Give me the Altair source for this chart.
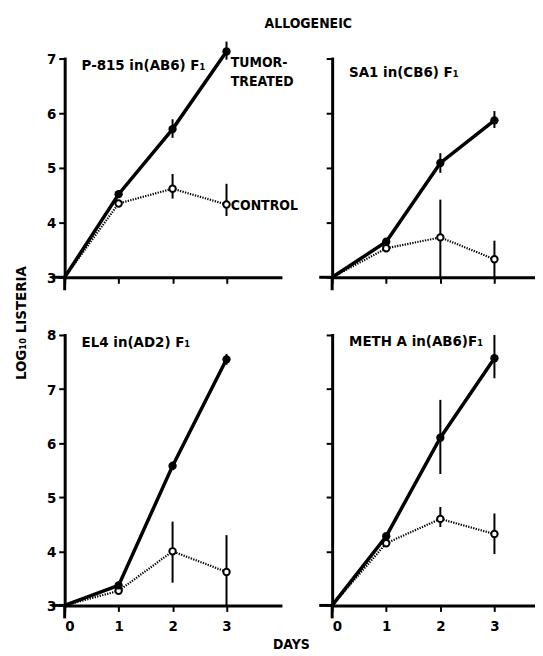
import altair as alt
import pandas as pd

# ---------------- data ----------------
DAYS = [0, 1, 2, 3]
PANEL_LABELS = ["P-815  in(AB6) F₁", "SA1  in(CB6) F₁", "EL4  in(AD2) F₁", "METH A  in(AB6)F₁"]

TUMOR = [
    [3.0, 4.52, 5.71, 7.13],
    [3.0, 3.65, 5.09, 5.87],
    [3.0, 3.37, 5.58, 7.55],
    [3.0, 4.28, 6.10, 7.57],
]
TUMOR_LO = [
    [None, None, 5.55, 6.98],
    [None, None, 4.91, 5.73],
    [None, None, 5.50, 7.45],
    [None, None, 5.43, 7.20],
]
TUMOR_HI = [
    [None, None, 5.89, 7.31],
    [None, None, 5.27, 6.04],
    [None, None, 5.66, 7.65],
    [None, None, 6.80, 8.00],
]
CONTROL = [
    [3.0, 4.35, 4.62, 4.33],
    [3.0, 3.53, 3.73, 3.33],
    [3.0, 3.27, 4.00, 3.62],
    [3.0, 4.15, 4.60, 4.32],
]
CONTROL_LO = [
    [None, None, 4.44, 4.12],
    [None, None, 3.00, 3.00],
    [None, None, 3.42, 3.00],
    [None, None, 4.45, 3.95],
]
CONTROL_HI = [
    [None, None, 4.89, 4.71],
    [None, None, 4.42, 3.67],
    [None, None, 4.55, 4.30],
    [None, None, 4.82, 4.70],
]

Y_TICKS_TOP = [3, 4, 5, 6, 7]
Y_TICKS_BOTTOM = [3, 4, 5, 6, 7, 8]
X_TICKS = [0, 1, 2, 3]

MAIN_TITLE = "ALLOGENEIC"
Y_TITLE = "LOG₁₀  LISTERIA"
X_TITLE = "DAYS"
TUMOR_NOTE = ["TUMOR-", "TREATED"]
CONTROL_NOTE = "CONTROL"

# ---------------- style ----------------
FONT = "DejaVu Sans Condensed, Liberation Sans Narrow, Roboto Condensed, sans-serif"
INK = "black"
LEFT_W, RIGHT_W = 217, 204
TOP_H, BOT_H = 220, 272


def one():
    return alt.Chart(pd.DataFrame({"_": [0]}))


def panel(i, xmax, width, ymax, height, yvals, show_ylabels, show_xlabels, label_dy):
    rows, err = [], []
    for k, d in enumerate(DAYS):
        rows.append({"day": d, "grp": "tumor", "v": TUMOR[i][k]})
        rows.append({"day": d, "grp": "control", "v": CONTROL[i][k]})
        if TUMOR_LO[i][k] is not None:
            err.append({"day": d, "lo": TUMOR_LO[i][k], "hi": TUMOR_HI[i][k]})
        if CONTROL_LO[i][k] is not None:
            err.append({"day": d, "lo": CONTROL_LO[i][k], "hi": CONTROL_HI[i][k]})
    df = pd.DataFrame(rows)
    edf = pd.DataFrame(err)

    xs = alt.Scale(domain=[0, xmax], nice=False, zero=False)
    ys = alt.Scale(domain=[3, ymax], nice=False, zero=False)
    xaxis = alt.Axis(values=X_TICKS, labels=show_xlabels, title=None, labelPadding=7,
                     format="d", grid=False)
    yaxis = alt.Axis(values=yvals, labels=show_ylabels, title=None, labelPadding=3,
                     format="d", grid=False)
    X = alt.X("day:Q", scale=xs, axis=xaxis)
    Y = alt.Y("v:Q", scale=ys, axis=yaxis)

    base = alt.Chart(df)
    tumor_line = base.transform_filter("datum.grp == 'tumor'").mark_line(
        color=INK, strokeWidth=3.5).encode(x=X, y=Y)
    ctrl_line = base.transform_filter("datum.grp == 'control'").mark_line(
        color=INK, strokeWidth=2.2, strokeDash=[1.3, 1.3]).encode(x=X, y=Y)
    bars = alt.Chart(edf).mark_rule(color=INK, strokeWidth=2).encode(
        x=alt.X("day:Q", scale=xs), y=alt.Y("lo:Q", scale=ys), y2="hi:Q")
    pts_t = base.transform_filter("datum.grp == 'tumor' && datum.day > 0").mark_circle(
        color=INK, size=70, opacity=1).encode(x=X, y=Y)
    pts_c = base.transform_filter("datum.grp == 'control' && datum.day > 0").mark_circle(
        fill="white", stroke=INK, strokeWidth=2, size=42, opacity=1).encode(x=X, y=Y)

    label = one().mark_text(font=FONT, fontSize=15, fontWeight="bold", align="left",
                            baseline="middle", color=INK).encode(
        x=alt.value(17), y=alt.value(label_dy), text=alt.value(PANEL_LABELS[i]))

    stub_x = one().mark_rule(color=INK, strokeWidth=3).encode(
        x=alt.value(-13), x2=alt.value(0), y=alt.value(height))
    stub_y = one().mark_rule(color=INK, strokeWidth=3).encode(
        x=alt.value(0), y=alt.value(height), y2=alt.value(height + 13))

    layers = [ctrl_line, tumor_line, bars, pts_c, pts_t, label, stub_x, stub_y]
    return layers, xs, ys


# top-left
L0, xs0, ys0 = panel(0, 4, LEFT_W, 7, TOP_H, Y_TICKS_TOP, True, False, 7)
notes = pd.DataFrame({"day": [3.08, 3.08, 3.08],
                      "v": [6.92, 6.57, 4.3],
                      "t": TUMOR_NOTE + [CONTROL_NOTE]})
note_layer = alt.Chart(notes).mark_text(font=FONT, fontSize=14, fontWeight="bold",
                                        align="left", baseline="middle", color=INK).encode(
    x=alt.X("day:Q", scale=xs0), y=alt.Y("v:Q", scale=ys0), text="t:N")
title_layer = one().mark_text(font=FONT, fontSize=14, fontWeight="bold", align="center",
                              baseline="middle", color=INK).encode(
    x=alt.value(245), y=alt.value(-35), text=alt.value(MAIN_TITLE))
ytitle_layer = one().mark_text(font=FONT, fontSize=15, fontWeight="bold", align="center",
                               baseline="middle", angle=270, color=INK).encode(
    x=alt.value(-44), y=alt.value(266), text=alt.value(Y_TITLE))
tl = alt.layer(*L0, note_layer, title_layer, ytitle_layer).properties(width=LEFT_W, height=TOP_H)

# top-right
L1, _, _ = panel(1, 3.75, RIGHT_W, 7, TOP_H, Y_TICKS_TOP, False, False, 14)
tr = alt.layer(*L1).properties(width=RIGHT_W, height=TOP_H)

# bottom-left
L2, _, _ = panel(2, 4, LEFT_W, 8, BOT_H, Y_TICKS_BOTTOM, True, True, 7)
xtitle_layer = one().mark_text(font=FONT, fontSize=14, fontWeight="bold", align="center",
                               baseline="middle", color=INK).encode(
    x=alt.value(228), y=alt.value(312), text=alt.value(X_TITLE))
bl = alt.layer(*L2, xtitle_layer).properties(width=LEFT_W, height=BOT_H)

# bottom-right
L3, _, _ = panel(3, 3.75, RIGHT_W, 8, BOT_H, Y_TICKS_BOTTOM, False, True, 6)
br = alt.layer(*L3).properties(width=RIGHT_W, height=BOT_H)

chart = alt.concat(tl, tr, bl, br, columns=2, bounds="flush",
                   spacing={"row": 58, "column": 52}).properties(
    padding={"left": 6, "top": 7, "right": 0, "bottom": 0},
    background="white"
).configure_view(stroke=None).configure_axis(
    domainColor=INK, domainWidth=3, tickColor=INK, tickWidth=2, tickSize=6,
    labelFont=FONT, labelFontSize=15, labelFontWeight="bold", labelColor=INK,
    grid=False, domainCap="square"
)

chart.save("out.html", embed_options={"renderer": "svg", "actions": False})
